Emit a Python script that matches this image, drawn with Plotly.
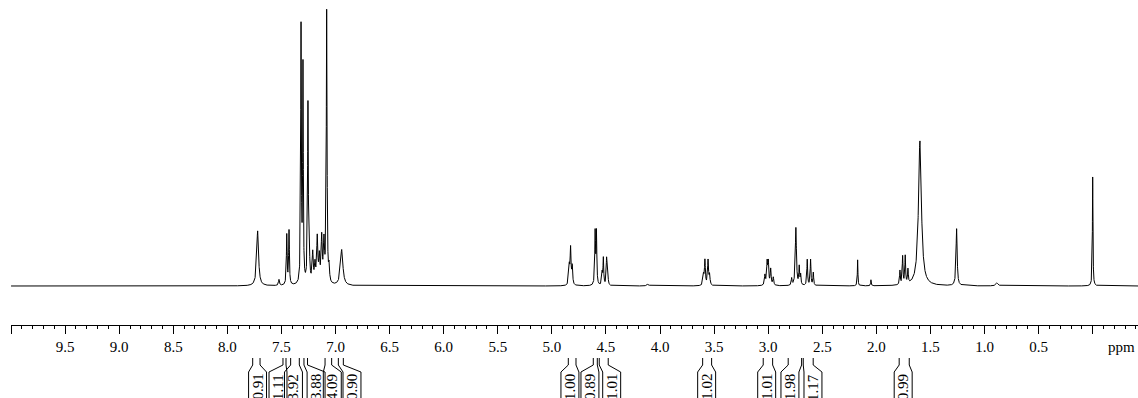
import numpy as np
import plotly.graph_objects as go

# ---- Data ----
# Peak centres (ppm), heights (arbitrary units) and half widths (ppm)
peak_ppm = [7.720, 7.523, 7.451, 7.430, 7.319, 7.301, 7.255, 7.243, 7.211, 7.190,
            7.169, 7.150, 7.128, 7.107, 7.082, 7.060, 6.943,
            4.839, 4.827, 4.812, 4.600, 4.588, 4.535, 4.524, 4.494, 4.483, 4.112,
            3.598, 3.585, 3.556, 3.542,
            3.030, 3.010, 2.999, 2.977, 2.953,
            2.783, 2.744, 2.713, 2.700, 2.639, 2.608, 2.583,
            2.173, 2.050, 1.782, 1.757, 1.733, 1.708, 1.597, 1.258, 0.885, 0.000]
peak_height = [55, 6, 50, 54, 255, 215, 177, 25, 30, 18,
               45, 25, 45, 40, 272, 15, 36,
               18, 36, 18, 52, 52, 12, 27, 27, 12, 2,
               10, 25, 25, 10,
               10, 22, 22, 16, 8,
               7, 58, 18, 10, 26, 26, 13,
               26, 6, 14, 28, 28, 14, 145, 57, 3, 109]
peak_hwhm = [0.010, 0.005, 0.004, 0.004, 0.0035, 0.0035, 0.004, 0.006, 0.006, 0.006,
             0.006, 0.006, 0.006, 0.006, 0.004, 0.005, 0.013,
             0.005, 0.005, 0.005, 0.004, 0.004, 0.004, 0.004, 0.004, 0.004, 0.010,
             0.005, 0.005, 0.005, 0.005,
             0.005, 0.005, 0.005, 0.005, 0.005,
             0.004, 0.006, 0.004, 0.004, 0.004, 0.004, 0.004,
             0.003, 0.003, 0.004, 0.004, 0.004, 0.004, 0.016, 0.006, 0.012, 0.003]

# Integrals: values, range edges (ppm) and label centre (ppm)
int_values = ["0.91", "1.11", "3.92", "3.88", "4.09", "0.90",
              "1.00", "0.89", "1.01", "1.02", "1.01", "1.98", "1.17", "0.99"]
int_start = [7.766, 7.486, 7.415, 7.292, 7.097, 6.974,
             4.848, 4.617, 4.562, 3.606, 3.046, 2.815, 2.676, 1.789]
int_end = [7.698, 7.458, 7.335, 7.259, 7.036, 6.928,
           4.777, 4.580, 4.479, 3.523, 2.959, 2.691, 2.584, 1.696]
int_label = [7.721, 7.532, 7.389, 7.180, 7.030, 6.848,
             4.833, 4.648, 4.447, 3.569, 3.014, 2.799, 2.586, 1.752]

tick_vals = [0.0, 0.5, 1.0, 1.5, 2.0, 2.5, 3.0, 3.5, 4.0, 4.5,
             5.0, 5.5, 6.0, 6.5, 7.0, 7.5, 8.0, 8.5, 9.0, 9.5, 10.0]
tick_text = ["", "0.5", "1.0", "1.5", "2.0", "2.5", "3.0", "3.5", "4.0", "4.5",
             "5.0", "5.5", "6.0", "6.5", "7.0", "7.5", "8.0", "8.5", "9.0", "9.5", ""]

# ---- Spectrum built from the peak list (Lorentzian lines) ----
ppm = np.arange(-0.42, 10.0005, 0.0005)
intensity = np.zeros_like(ppm)
for p, h, g in zip(peak_ppm, peak_height, peak_hwhm):
    intensity += h * g * g / ((ppm - p) ** 2 + g * g)

FONT = "Liberation Serif"

fig = go.Figure()
fig.add_trace(go.Scatter(x=ppm, y=intensity, mode="lines",
                         line=dict(color="black", width=1), hoverinfo="skip",
                         showlegend=False))

# geometry (in y-units: 0 = spectrum baseline)
Y_MARK_TOP = -72
Y_MARK_BOT = -79
Y_BOX_TOP = -86
Y_BOX_BOT = -140
HALF_BOX = 0.083

shapes = []
for a, b, c in zip(int_start, int_end, int_label):
    left = c + HALF_BOX
    right = c - HALF_BOX
    shapes.append(dict(type="path", xref="x", yref="y",
                       path=f"M {a},{Y_MARK_TOP} L {a},{Y_MARK_BOT} L {left},{Y_BOX_TOP} L {left},{Y_BOX_BOT}",
                       line=dict(color="black", width=1)))
    shapes.append(dict(type="path", xref="x", yref="y",
                       path=f"M {b},{Y_MARK_TOP} L {b},{Y_MARK_BOT} L {right},{Y_BOX_TOP} L {right},{Y_BOX_BOT}",
                       line=dict(color="black", width=1)))

annotations = []
for v, c in zip(int_values, int_label):
    annotations.append(dict(x=c, y=-101, xref="x", yref="y", text=v, textangle=-90,
                            showarrow=False, xanchor="center", yanchor="middle",
                            font=dict(family=FONT, size=15, color="black")))
annotations.append(dict(x=-0.27, y=-61, xref="x", yref="y", text="ppm",
                        showarrow=False, xanchor="center", yanchor="middle",
                        font=dict(family=FONT, size=15, color="black")))

fig.update_layout(
    width=1138, height=398,
    margin=dict(l=11, r=0, t=0, b=0, autoexpand=False),
    paper_bgcolor="white", plot_bgcolor="white",
    shapes=shapes, annotations=annotations,
    xaxis=dict(range=[10.0005, -0.419], tickmode="array", tickvals=tick_vals,
               ticktext=tick_text, ticks="outside", ticklen=8, tickwidth=1,
               tickcolor="black", showline=True, linecolor="black", linewidth=1,
               showgrid=False, zeroline=False, anchor="free", position=(398 - 325) / 398,
               automargin=False,
               tickfont=dict(family=FONT, size=15, color="black"),
               minor=dict(tickmode="linear", tick0=0, dtick=0.1, ticks="outside",
                          ticklen=3, tickcolor="black", tickwidth=1, showgrid=False)),
    yaxis=dict(range=[-112, 286], visible=False, showgrid=False, zeroline=False,
               automargin=False),
)

fig.write_html("out.html", config={"displayModeBar": False},
               post_script="document.body.style.margin='0';document.body.style.overflow='hidden';")
